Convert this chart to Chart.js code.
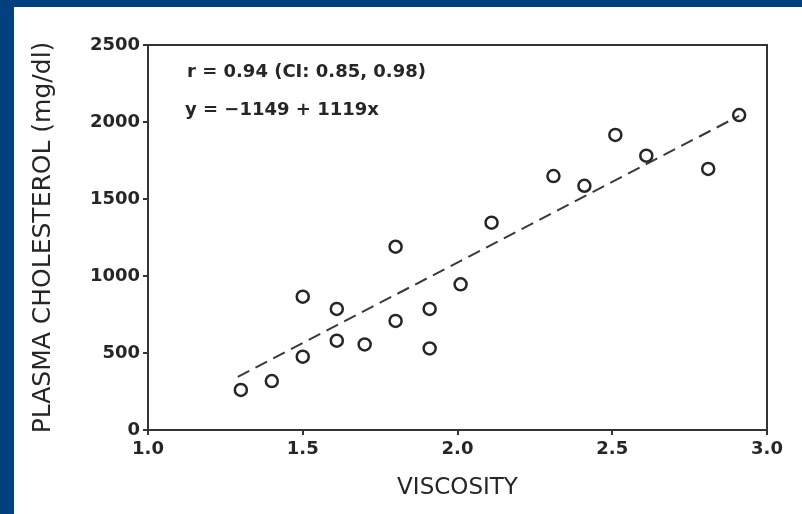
<!DOCTYPE html>
<html>
<head>
<meta charset="utf-8">
<script src="https://cdn.jsdelivr.net/npm/chart.js@4.4.1/dist/chart.umd.min.js"></script>
<style>
  html, body { margin: 0; padding: 0; }
  body { width: 802px; height: 514px; background: #02407f; position: relative; overflow: hidden; }
  #wrap { position: absolute; left: 14px; top: 7px; width: 788px; height: 507px; background: #fff; }
</style>
</head>
<body>
<div id="wrap"><canvas id="chart"></canvas></div>
<script>
// values
const viscosity = [1.30, 1.40, 1.50, 1.50, 1.61, 1.61, 1.70, 1.80, 1.80, 1.91, 1.91, 2.01, 2.11, 2.31, 2.41, 2.51, 2.61, 2.81, 2.91];
const cholesterol = [260, 318, 866, 476, 786, 580, 556, 1190, 708, 786, 530, 946, 1346, 1649, 1586, 1916, 1781, 1695, 2045];
const fitX = [1.29, 2.91];
const fitY = [345, 2040];
const xTicks = [1.0, 1.5, 2.0, 2.5, 3.0];
const yTicks = [0, 500, 1000, 1500, 2000, 2500];
const statsLines = ["r = 0.94 (CI: 0.85, 0.98)", "y = \u22121149 + 1119x"];
const xTitle = "VISCOSITY";
const yTitle = "PLASMA CHOLESTEROL (mg/dl)";

const ink = "#262626";

const framePlugin = {
  id: "frame",
  afterDraw(chart) {
    const ctx = chart.ctx;
    const a = chart.chartArea;
    ctx.save();
    ctx.strokeStyle = "#333";
    ctx.lineWidth = 2;
    ctx.beginPath();
    ctx.moveTo(a.left, a.top);
    ctx.lineTo(a.right, a.top);
    ctx.lineTo(a.right, a.bottom);
    ctx.stroke();
    // stats text
    ctx.fillStyle = ink;
    ctx.font = "bold 18px 'DejaVu Sans'";
    ctx.textBaseline = "middle";
    ctx.fillText(statsLines[0], a.left + 39, a.top + 27);
    ctx.fillText(statsLines[1], a.left + 37, a.top + 65);
    ctx.restore();
  },
};

const chart = new Chart(document.getElementById("chart"), {
  data: {
    datasets: [
      {
        type: "scatter",
        data: viscosity.map((v, i) => ({ x: v, y: cholesterol[i] })),
        pointStyle: "circle",
        pointRadius: 6,
        pointBorderWidth: 2.5,
        borderColor: ink,
        backgroundColor: "rgba(255,255,255,0)",
      },
      {
        type: "line",
        data: fitX.map((v, i) => ({ x: v, y: fitY[i] })),
        borderColor: "#3a3a3a",
        borderWidth: 2,
        borderDash: [13, 7],
        pointRadius: 0,
        fill: false,
      },
    ],
  },
  options: {
    responsive: true,
    maintainAspectRatio: false,
    animation: false,
    layout: { padding: { left: 0, right: 35, top: 38, bottom: 0 } },
    plugins: { legend: { display: false }, tooltip: { enabled: false } },
    scales: {
      x: {
        type: "linear",
        min: 1,
        max: 3,
        afterFit: (s) => { s.height = 84; },
        afterBuildTicks: (s) => { s.ticks = xTicks.map((v) => ({ value: v })); },
        ticks: {
          color: ink,
          padding: 4,
          font: { family: "DejaVu Sans", size: 18, weight: "bold" },
          callback: (v) => Number(v).toFixed(1),
        },
        grid: { drawOnChartArea: false, tickLength: 5, color: "#333", lineWidth: 2 },
        border: { display: true, color: "#333", width: 2 },
        title: {
          display: true,
          text: xTitle,
          color: ink,
          font: { family: "DejaVu Sans", size: 23 },
          padding: { top: 0, bottom: 12 },
        },
      },
      y: {
        type: "linear",
        min: 0,
        max: 2500,
        afterFit: (s) => { s.width = 134; },
        afterBuildTicks: (s) => { s.ticks = yTicks.map((v) => ({ value: v })); },
        ticks: {
          color: ink,
          padding: 3,
          font: { family: "DejaVu Sans", size: 18, weight: "bold" },
          callback: (v) => String(v),
        },
        grid: { drawOnChartArea: false, tickLength: 5, color: "#333", lineWidth: 2 },
        border: { display: true, color: "#333", width: 2 },
        title: {
          display: true,
          text: yTitle,
          color: ink,
          font: { family: "DejaVu Sans", size: 25 },
          padding: { top: 14, bottom: 0 },
        },
      },
    },
  },
  plugins: [framePlugin],
});
</script>
</body>
</html>
